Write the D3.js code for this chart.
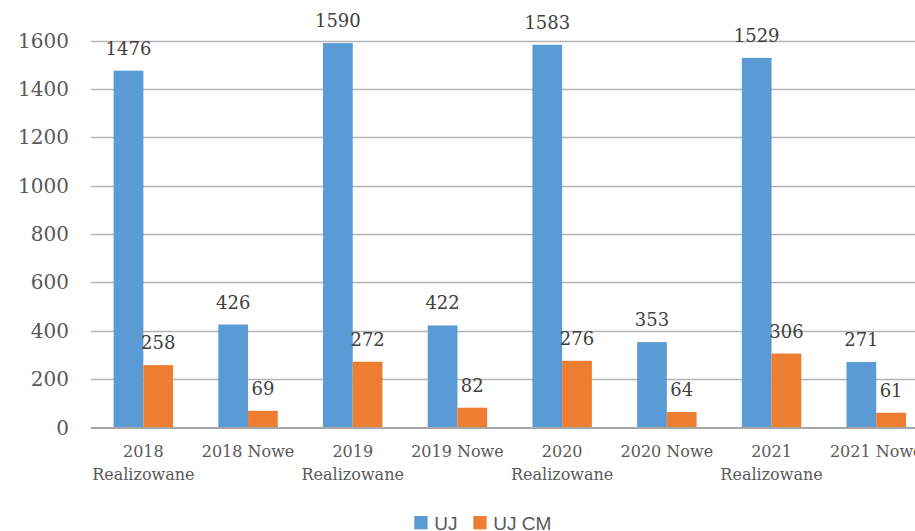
<!DOCTYPE html>
<html>
<head>
<meta charset="utf-8">
<script src="https://cdn.jsdelivr.net/npm/d3@7/dist/d3.min.js"></script>
<style>
html,body{margin:0;padding:0;background:#fff;overflow:hidden;}
svg{display:block;}
</style>
</head>
<body>
<svg id="chart" width="915" height="531"></svg>
<script>
const categories = [
  ["2018", "Realizowane"], ["2018 Nowe"],
  ["2019", "Realizowane"], ["2019 Nowe"],
  ["2020", "Realizowane"], ["2020 Nowe"],
  ["2021", "Realizowane"], ["2021 Nowe"]
];
const seriesNames = ["UJ", "UJ CM"];
const ujValues = [1476, 426, 1590, 422, 1583, 353, 1529, 271];
const ujcmValues = [258, 69, 272, 82, 276, 64, 306, 61];
const yTicks = [0, 200, 400, 600, 800, 1000, 1200, 1400, 1600];
const colors = ["#5b9bd5", "#ed7d31"];

(function () {
const svg = d3.select("#chart");
const plotLeft = 91, plotRight = 928.6, plotTop = 40.7, plotBottom = 427.5;

const x = d3.scaleBand().domain(d3.range(categories.length)).range([plotLeft, plotRight]).paddingInner(0).paddingOuter(0);
const y = d3.scaleLinear().domain([0, 1600]).range([plotBottom, plotTop]);
const barW = x.bandwidth() * 0.284;

// gridlines
svg.append("g").selectAll("line").data(yTicks.filter(d => d > 0)).join("line")
  .attr("x1", plotLeft).attr("x2", plotRight)
  .attr("y1", d => Math.round(y(d)) + 0.5).attr("y2", d => Math.round(y(d)) + 0.5)
  .attr("stroke", "#b4b4b4").attr("stroke-width", 1.3);

// y tick labels
svg.append("g").selectAll("text").data(yTicks).join("text")
  .attr("x", 69).attr("y", d => y(d) + 7)
  .attr("text-anchor", "end")
  .attr("font-family", "DejaVu Serif")
  .attr("font-size", 20)
  .attr("fill", "#595959")
  .text(d => d);

const series = [ujValues, ujcmValues];
series.forEach((vals, si) => {
  const g = svg.append("g");
  g.selectAll("rect").data(vals).join("rect")
    .attr("x", (d, i) => x(i) + x.bandwidth() / 2 - barW + si * barW)
    .attr("y", d => y(d))
    .attr("width", barW)
    .attr("height", d => y(0) - y(d))
    .attr("fill", colors[si]);
  g.selectAll("text").data(vals).join("text")
    .attr("x", (d, i) => x(i) + x.bandwidth() / 2 - barW / 2 + si * barW)
    .attr("y", d => y(d) - 16)
    .attr("text-anchor", "middle")
    .attr("font-family", "DejaVu Serif")
    .attr("font-size", 18)
    .attr("fill", "#404040")
    .text(d => d);
});

// baseline
svg.append("line").attr("x1", plotLeft).attr("x2", plotRight)
  .attr("y1", y(0) + 0.5).attr("y2", y(0) + 0.5)
  .attr("stroke", "#a6a6a6").attr("stroke-width", 1.8);

// category labels
const cat = svg.append("g").selectAll("text").data(categories).join("text")
  .attr("text-anchor", "middle")
  .attr("font-family", "DejaVu Serif")
  .attr("font-size", 16)
  .attr("fill", "#595959");
cat.each(function(lines, i) {
  const t = d3.select(this);
  lines.forEach((ln, j) => {
    t.append("tspan").attr("x", x(i) + x.bandwidth() / 2).attr("y", 457 + j * 22.5).text(ln);
  });
});

// legend
const legend = svg.append("g");
const legX = [414.3, 473.3];
seriesNames.forEach((name, i) => {
  legend.append("rect").attr("x", legX[i]).attr("y", 516).attr("width", 13.3).attr("height", 13.3).attr("fill", colors[i]);
  legend.append("text").attr("x", legX[i] + 20).attr("y", 529.5)
    .attr("font-family", "Liberation Sans")
    .attr("font-size", 19)
    .attr("fill", "#595959")
    .text(name);
});
})();
</script>
</body>
</html>
